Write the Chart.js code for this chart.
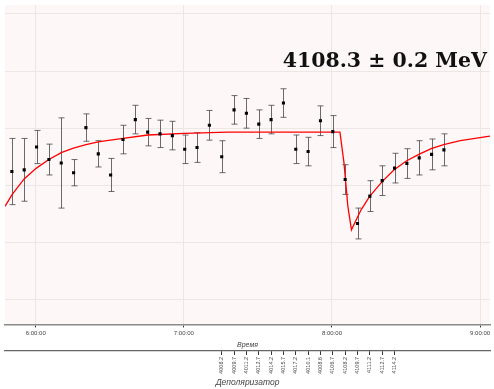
<!DOCTYPE html>
<html>
<head>
<meta charset="utf-8">
<script src="https://cdn.jsdelivr.net/npm/chart.js@4.4.1/dist/chart.umd.min.js"></script>
<style>
  html, body { margin: 0; padding: 0; background: #fff; overflow: hidden; }
</style>
</head>
<body>
<canvas id="calib-chart" width="494" height="389"></canvas>
<script>
// measurements, one every 5 minutes
const pointTimes = [
  '5:50:20','5:55:20','6:00:20','6:05:20','6:10:20','6:15:20','6:20:20','6:25:20','6:30:20',
  '6:35:20','6:40:20','6:45:20','6:50:20','6:55:20','7:00:20','7:05:20','7:10:20','7:15:20',
  '7:20:20','7:25:20','7:30:20','7:35:20','7:40:20','7:45:20','7:50:20','7:55:20','8:00:20',
  '8:05:20','8:10:20','8:15:20','8:20:20','8:25:20','8:30:20','8:35:20','8:40:20','8:45:20'
];
const pointValues = [
  2.24, 2.27, 2.67, 2.45, 2.39, 2.22, 3.01, 2.55, 2.18,
  2.80, 3.15, 2.93, 2.90, 2.87, 2.63, 2.66, 3.05, 2.50,
  3.32, 3.26, 3.07, 3.15, 3.44, 2.63, 2.59, 3.13, 2.94,
  2.10, 1.33, 1.81, 2.08, 2.30, 2.38, 2.48, 2.54, 2.62
];
const pointErrors = [
  0.58, 0.55, 0.29, 0.27, 0.79, 0.23, 0.24, 0.23, 0.29,
  0.25, 0.25, 0.24, 0.24, 0.25, 0.25, 0.26, 0.26, 0.28,
  0.25, 0.26, 0.25, 0.25, 0.25, 0.25, 0.25, 0.26, 0.28,
  0.26, 0.27, 0.27, 0.26, 0.26, 0.26, 0.30, 0.27, 0.28
];

// fitted curve
const fitTimes = [
  '5:47:33','5:50:29','5:55:18','6:00:17','6:05:20','6:10:20','6:15:16','6:20:22','6:25:19',
  '6:30:15','6:35:22','6:45:24','7:00:16','7:17:56','8:03:13','8:04:50','8:06:26','8:07:53',
  '8:11:47','8:15:11','8:20:13','8:25:10','8:30:16','8:35:12','8:40:11','8:45:15','8:51:58','9:04:00'
];
const fitValues = [
  1.63, 1.84, 2.11, 2.30, 2.45, 2.57, 2.65, 2.71, 2.76,
  2.79, 2.82, 2.88, 2.91, 2.93, 2.93, 2.40, 1.63, 1.22,
  1.57, 1.80, 2.06, 2.27, 2.43, 2.54, 2.64, 2.71, 2.78, 2.86
];

// depolarizer frequency at each scan point
const depolTimes = [
  '7:15:20','7:20:20','7:25:20','7:30:20','7:35:20','7:40:20','7:45:20','7:50:20',
  '7:55:20','8:00:20','8:05:20','8:10:20','8:15:20','8:20:20','8:25:20'
];
const depolLabels = [
  '4008.2','4009.7','4011.2','4012.7','4014.2','4015.7','4017.2','4010.1',
  '4008.6','4106.7','4108.2','4109.7','4111.2','4112.7','4114.2'
];

const hourTicks = ['6:00:00','7:00:00','8:00:00','9:00:00'];
const gridLevels = [0, 1, 2, 3, 4, 5];
const resultText = '4108.3 \u00b1 0.2 MeV';

function toSec(s) {
  const p = s.split(':').map(Number);
  return p[0] * 3600 + p[1] * 60 + (p[2] || 0);
}
function fmtTime(sec) {
  const h = Math.floor(sec / 3600);
  const m = Math.floor((sec % 3600) / 60);
  const s = Math.round(sec % 60);
  return h + ':' + String(m).padStart(2, '0') + ':' + String(s).padStart(2, '0');
}

const points = pointTimes.map((t, i) => ({ x: toSec(t), y: pointValues[i] }));
const fit = fitTimes.map((t, i) => ({ x: toSec(t), y: fitValues[i] }));

const plotBg = {
  id: 'plotBg',
  beforeDraw(chart) {
    const a = chart.chartArea, ctx = chart.ctx;
    ctx.save();
    ctx.fillStyle = '#fdf8f7';
    ctx.fillRect(a.left, a.top, a.right - a.left, a.bottom - a.top);
    ctx.restore();
  }
};

const errorBars = {
  id: 'errorBars',
  beforeDatasetsDraw(chart) {
    const ctx = chart.ctx, xs = chart.scales.x, ys = chart.scales.y;
    ctx.save();
    ctx.strokeStyle = 'rgba(70,70,70,0.8)';
    ctx.lineWidth = 1;
    points.forEach((p, i) => {
      const x = Math.round(xs.getPixelForValue(p.x)) + 0.5;
      const y1 = ys.getPixelForValue(p.y + pointErrors[i]);
      const y2 = ys.getPixelForValue(p.y - pointErrors[i]);
      ctx.beginPath();
      ctx.moveTo(x, y1); ctx.lineTo(x, y2);
      ctx.moveTo(x - 3, y1); ctx.lineTo(x + 3, y1);
      ctx.moveTo(x - 3, y2); ctx.lineTo(x + 3, y2);
      ctx.stroke();
    });
    ctx.restore();
  }
};

const resultLabel = {
  id: 'resultLabel',
  afterDraw(chart) {
    const ctx = chart.ctx;
    ctx.save();
    ctx.font = 'bold 20.5px "DejaVu Serif"';
    ctx.fillStyle = '#111';
    ctx.textAlign = 'right';
    ctx.textBaseline = 'alphabetic';
    ctx.fillText(resultText, chart.chartArea.right - 3, 67);
    ctx.restore();
  }
};

const config = {
  type: 'scatter',
  data: {
    datasets: [
      {
        label: 'data',
        data: points,
        pointStyle: 'rect',
        pointRadius: 2.2,
        backgroundColor: '#000',
        borderWidth: 0
      },
      {
        type: 'line',
        label: 'fit',
        data: fit,
        borderColor: '#ff0000',
        borderWidth: 1.3,
        pointRadius: 0,
        tension: 0,
        fill: false
      }
    ]
  },
  options: {
    responsive: false,
    animation: false,
    devicePixelRatio: 1,
    layout: { padding: { left: 5, top: 5, right: 0, bottom: 1 } },
    plugins: { legend: { display: false }, tooltip: { enabled: false } },
    scales: {
      x: {
        type: 'linear',
        position: 'bottom',
        min: toSec('5:47:33'),
        max: toSec('9:04:00'),
        afterBuildTicks(scale) { scale.ticks = hourTicks.map(t => ({ value: toSec(t) })); },
        ticks: {
          autoSkip: false, maxRotation: 0, padding: 2,
          font: { family: 'Liberation Sans', size: 6 }, color: '#444',
          callback: v => fmtTime(v)
        },
        grid: { color: '#ece6e5', tickColor: '#333', tickLength: 3 },
        border: { color: '#8a8a8a', width: 1.5 },
        title: {
          display: true, text: 'Время', color: '#444',
          font: { family: 'Liberation Sans', size: 7, style: 'italic' },
          padding: { top: 2, bottom: 2 }
        }
      },
      x2: {
        type: 'linear',
        position: 'bottom',
        min: toSec('5:47:33'),
        max: toSec('9:04:00'),
        afterBuildTicks(scale) { scale.ticks = depolTimes.map(t => ({ value: toSec(t) })); },
        ticks: {
          autoSkip: false, minRotation: 90, maxRotation: 90, padding: 2,
          font: { family: 'Liberation Sans', size: 5.5 }, color: '#444',
          callback: (v, i) => depolLabels[i]
        },
        grid: { drawOnChartArea: false, tickColor: '#333', tickLength: 4 },
        border: { color: '#666', width: 1.2 },
        title: {
          display: true, text: 'Деполяризатор', color: '#444',
          font: { family: 'Liberation Sans', size: 8.5, style: 'italic' },
          padding: { top: 2, bottom: 0 }
        }
      },
      y: {
        min: -0.437,
        max: 5.157,
        afterBuildTicks(scale) { scale.ticks = gridLevels.map(v => ({ value: v })); },
        ticks: { display: false },
        grid: { color: '#ece6e5', drawTicks: false },
        border: { display: false }
      }
    }
  },
  plugins: [plotBg, errorBars, resultLabel]
};

new Chart(document.getElementById('calib-chart').getContext('2d'), config);
</script>
</body>
</html>
